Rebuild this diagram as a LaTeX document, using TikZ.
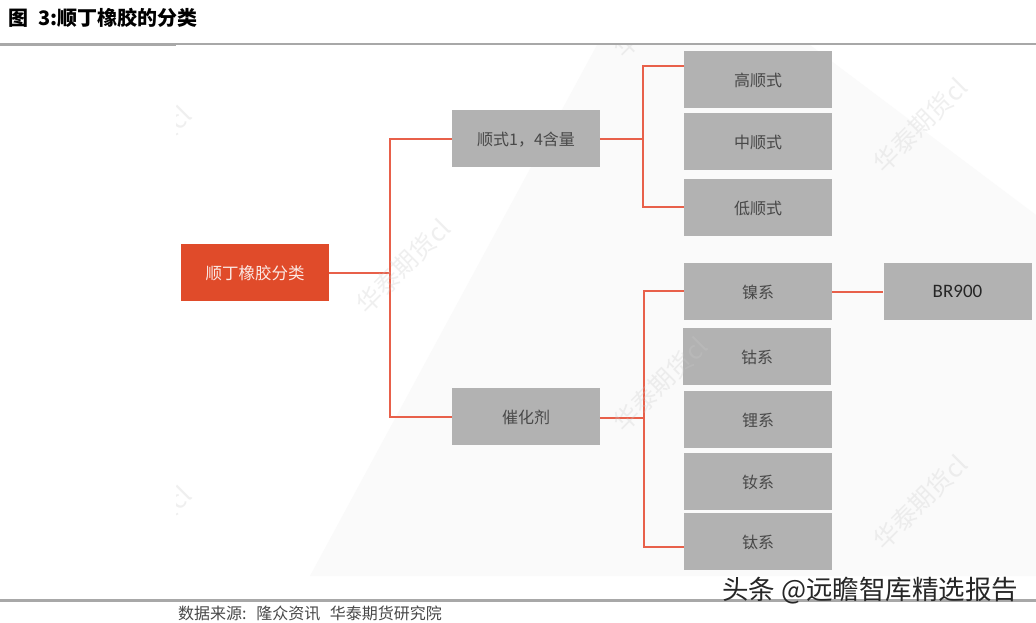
\documentclass[tikz,border=0pt]{standalone}
\usepackage{fontspec}
\setmainfont{Noto Sans CJK SC}
\newfontfamily\latinfont{Carlito}
\definecolor{boxgray}{HTML}{B2B2B2}
\definecolor{rootred}{HTML}{E04B2A}
\definecolor{linkred}{HTML}{E8604A}
\definecolor{rulegray}{HTML}{A8A8A8}
\definecolor{markgray}{HTML}{C8C8C8}
\definecolor{backgray}{HTML}{FAFAFA}
\definecolor{labelgray}{HTML}{484848}
\tikzset{
  catbox/.style={fill=boxgray,text=labelgray,minimum width=148pt,minimum height=57pt,inner sep=0pt,text height=16pt,text depth=2pt,font=\fontsize{16}{18}\selectfont},
  rootbox/.style={catbox,fill=rootred,text=white!88!rootred,font=\fontsize{16.5}{18}\selectfont},
  link/.style={linkred,line width=2pt},
  watermark/.style={markgray,opacity=0.28,rotate=45,inner sep=0pt,font=\fontsize{25}{27}\selectfont}
}
\begin{document}
\begin{tikzpicture}[x=1pt,y=-1pt]
  \useasboundingbox (0,0) rectangle (1036,622);
  \fill[white] (0,0) rectangle (1036,622);
  \fill[backgray] (310,576) -- (597,45) -- (810,45) -- (1036,215) -- (1036,576) -- cycle;
  \draw[rulegray,line width=2pt] (0,43.5) -- (1036,43.5);
  \draw[rulegray,line width=3pt] (0,44) -- (176,44);
  \draw[rulegray,line width=3pt] (0,600) -- (1036,600);

  \node[anchor=west,inner sep=0pt,font=\fontsize{20}{22}\selectfont\bfseries] (title) at (8,18) {图\hspace{0.5em}3:顺丁橡胶的分类};
  \node[anchor=west,inner sep=0pt,text=labelgray,font=\fontsize{16}{18}\selectfont] (source) at (178,613) {数据来源:\hspace{0.6em}隆众资讯\hspace{0.6em}华泰期货研究院};

  \node[rootbox] (root) at (255,272.5) {顺丁橡胶分类};
  \node[catbox] (shunshi) at (526,138.5) {顺式1，4含量};
  \node[catbox] (cuihua) at (526,416.5) {催化剂};
  \node[catbox] (gao) at (758,79.5) {高顺式};
  \node[catbox] (zhong) at (758,141.5) {中顺式};
  \node[catbox] (di) at (758,207) {低顺式};
  \node[catbox] (nie) at (758,291.5) {镍系};
  \node[catbox] (gu) at (757,356.5) {钴系};
  \node[catbox] (li) at (758,419) {锂系};
  \node[catbox] (nv) at (758,481.5) {钕系};
  \node[catbox] (tai) at (758,541.5) {钛系};
  \node[catbox,text=black!85,text height=14pt,font=\fontsize{19}{21}\selectfont\latinfont] (brnine) at (957.5,291.5) {BR900};

  \coordinate (busroot) at (390,272.5);
  \coordinate (busshun) at (642.5,138.5);
  \coordinate (buscui) at (643.5,417.5);
  \coordinate (gaoin) at (684,66);
  \coordinate (niein) at (684,291);
  \coordinate (taiin) at (684,547);
  \coordinate (cuiout) at (600,417.5);

  \draw[link] (root.east) -- (busroot);
  \draw[link] (shunshi.west) -| (busroot) |- (cuihua.west);
  \draw[link] (shunshi.east) -- (busshun);
  \draw[link] (gaoin) -| (busshun) |- (di.west);
  \draw[link] (cuiout) -- (buscui);
  \draw[link] (niein) -| (buscui) |- (taiin);
  \draw[link] (nie.east) -- (brnine.west);

  \begin{scope}
    \clip (176,45) rectangle (1036,576);
    \node[watermark] (marka) at (403,266) {华泰期货cl};
    \node[watermark] (markb) at (920,125) {华泰期货cl};
    \node[watermark] (markc) at (660,384) {华泰期货cl};
    \node[watermark] (markd) at (920,502) {华泰期货cl};
    \node[watermark] (marke) at (660,10) {华泰期货cl};
    \node[watermark] (markf) at (144,153) {华泰期货cl};
    \node[watermark] (markg) at (144,533) {华泰期货cl};
  \end{scope}

  \node[anchor=west,inner sep=0pt,text=black!85,font=\fontsize{26.5}{28}\selectfont] (toutiao) at (722,591) {头条 @远瞻智库精选报告};
\end{tikzpicture}
\end{document}
